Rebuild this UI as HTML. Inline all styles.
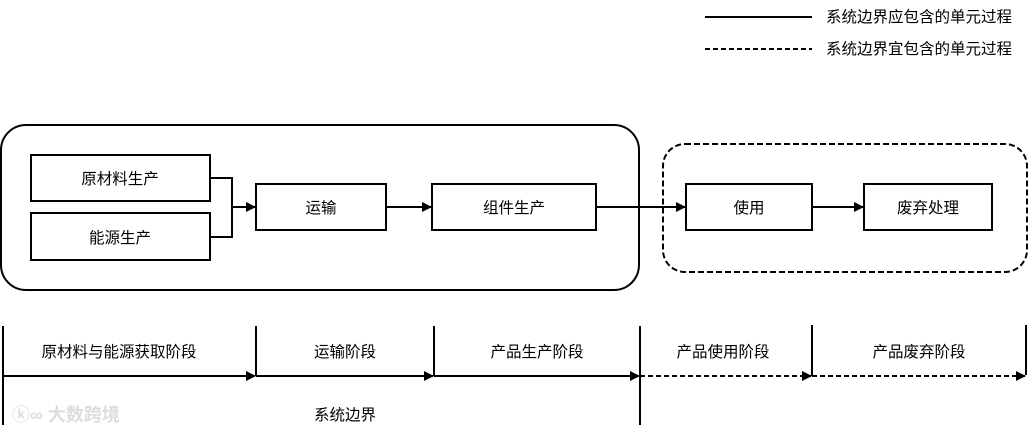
<!DOCTYPE html>
<html><head><meta charset="utf-8"><style>
html,body{margin:0;padding:0;background:#fff;}
svg text{font-family:"Liberation Sans","Noto Sans CJK SC",sans-serif;font-size:15.5px;fill:#000;}
</style></head><body>
<svg width="1030" height="433" viewBox="0 0 1030 433" xmlns="http://www.w3.org/2000/svg">
<defs>
<marker id="a" markerWidth="10" markerHeight="10" refX="9" refY="5" orient="auto" markerUnits="userSpaceOnUse"><path d="M0,0 L10,5 L0,10 z" fill="#000"/></marker>
</defs>
<g stroke="#000" fill="none" stroke-width="2">
<line x1="705" y1="17" x2="812" y2="17"/>
<line x1="705" y1="49" x2="812" y2="49" stroke-dasharray="5,3"/>
<rect x="1" y="125" width="638" height="165" rx="25"/>
<rect x="663" y="144" width="364" height="128" rx="22" stroke-dasharray="6,3"/>
<rect x="31" y="155" width="179" height="46"/>
<rect x="31" y="213" width="179" height="47"/>
<rect x="256" y="184" width="130" height="46"/>
<rect x="432" y="184" width="164" height="46"/>
<rect x="686" y="184" width="126" height="46"/>
<rect x="864" y="184" width="128" height="46"/>
<polyline points="210,178 232,178 232,237 210,237"/>
<line x1="232" y1="207" x2="255" y2="207" marker-end="url(#a)"/>
<line x1="386" y1="207" x2="431" y2="207" marker-end="url(#a)"/>
<line x1="596" y1="207" x2="685" y2="207" marker-end="url(#a)"/>
<line x1="812" y1="207" x2="863" y2="207" marker-end="url(#a)"/>
<line x1="3" y1="326" x2="3" y2="425"/>
<line x1="256" y1="326" x2="256" y2="376"/>
<line x1="434" y1="326" x2="434" y2="376"/>
<line x1="640" y1="326" x2="640" y2="425"/>
<line x1="812" y1="325" x2="812" y2="376"/>
<line x1="1026" y1="325" x2="1026" y2="375"/>
<line x1="3" y1="376" x2="255" y2="376" marker-end="url(#a)"/>
<line x1="256" y1="376" x2="433" y2="376" marker-end="url(#a)"/>
<line x1="434" y1="376" x2="639" y2="376" marker-end="url(#a)"/>
<line x1="640" y1="376" x2="811" y2="376" stroke-dasharray="5,3" marker-end="url(#a)"/>
<line x1="812" y1="376" x2="1025" y2="376" stroke-dasharray="5,3" marker-end="url(#a)"/>
</g>
<g text-anchor="start">
<text x="826" y="22">系统边界应包含的单元过程</text>
<text x="826" y="54">系统边界宜包含的单元过程</text>
</g>
<g text-anchor="middle">
<text x="120" y="184">原材料生产</text>
<text x="120" y="243">能源生产</text>
<text x="321" y="213">运输</text>
<text x="514" y="213">组件生产</text>
<text x="749" y="213">使用</text>
<text x="928" y="213">废弃处理</text>
<text x="119" y="357">原材料与能源获取阶段</text>
<text x="345" y="357">运输阶段</text>
<text x="537" y="357">产品生产阶段</text>
<text x="723" y="357">产品使用阶段</text>
<text x="919" y="357">产品废弃阶段</text>
<text x="345" y="420">系统边界</text>
</g>
<text x="12" y="421" style="font-size:18px;fill:#ddd;font-weight:bold">ⓚ∞ 大数跨境</text>
</svg>
</body></html>
